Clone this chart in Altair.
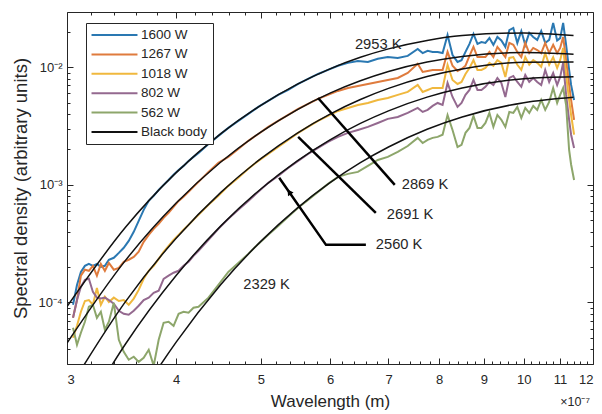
import altair as alt
import pandas as pd

FONT = "Liberation Sans"
INK = "#262626"

# ---------------- data (wavelength in units of 1e-7 m) ----------------
wavelength = [3.048, 3.080, 3.112, 3.145, 3.178, 3.212, 3.246, 3.280, 3.315, 3.350,
              3.394, 3.439, 3.484, 3.530, 3.577, 3.624, 3.672, 3.721, 3.770, 3.820,
              3.870, 3.921, 3.973, 4.026, 4.079, 4.133, 4.187, 4.243,
              4.356, 4.471, 4.590, 4.712, 4.838, 4.967, 5.099, 5.234, 5.374, 5.517,
              5.663, 5.814, 5.969, 6.128, 6.291, 6.458, 6.630, 6.806, 6.987, 7.173,
              7.364, 7.560,
              7.660, 7.761, 7.864, 7.968, 8.073, 8.179, 8.287, 8.397,
              8.486, 8.575, 8.666, 8.757, 8.850, 8.943, 9.038, 9.133, 9.229, 9.327,
              9.425, 9.525, 9.625, 9.727, 9.830, 9.934, 10.038, 10.144, 10.251, 10.360,
              10.469, 10.580, 10.691, 10.804, 10.918,
              11.005, 11.092, 11.179, 11.268, 11.327, 11.416]

p1600 = [9.56e-5, 1.41e-4, 1.82e-4, 2.05e-4, 2.13e-4, 2.05e-4, 2.13e-4, 2.01e-4, 2.05e-4, 2.31e-4,
         2.40e-4, 2.64e-4, 2.92e-4, 3.34e-4, 3.99e-4, 4.94e-4, 6.13e-4, 7.31e-4, 8.06e-4, 9.07e-4,
         1.00e-3, 1.10e-3, 1.22e-3, 1.34e-3, 1.45e-3, 1.60e-3, 1.73e-3, 1.87e-3,
         2.23e-3, 2.61e-3, 3.05e-3, 3.50e-3, 4.01e-3, 4.60e-3, 5.17e-3, 5.82e-3, 6.41e-3, 7.21e-3,
         7.95e-3, 8.77e-3, 9.49e-3, 1.03e-2, 1.09e-2, 1.13e-2, 1.11e-2, 1.18e-2, 1.22e-2, 1.20e-2,
         1.25e-2, 1.43e-2,
         1.32e-2, 1.38e-2, 1.35e-2, 1.35e-2, 1.32e-2, 1.88e-2, 1.27e-2, 1.11e-2,
         1.15e-2, 1.35e-2, 1.58e-2, 1.92e-2, 1.58e-2, 1.64e-2, 1.61e-2, 1.77e-2, 1.55e-2, 1.81e-2,
         1.69e-2, 1.49e-2, 2.07e-2, 2.16e-2, 1.61e-2, 2.03e-2, 1.55e-2, 1.96e-2, 1.81e-2, 1.71e-2,
         2.03e-2, 1.61e-2, 1.71e-2, 2.38e-2, 1.69e-2,
         1.77e-2, 2.38e-2, 1.55e-2, 9.49e-3, 7.07e-3, 5.27e-3]

p1267 = [7.41e-5, 1.05e-4, 1.69e-4, 1.90e-4, 1.86e-4, 2.05e-4, 1.69e-4, 2.13e-4, 1.86e-4, 2.17e-4,
         1.90e-4, 1.97e-4, 2.22e-4, 2.31e-4, 2.44e-4, 2.70e-4, 3.28e-4, 3.76e-4, 4.23e-4, 4.66e-4,
         5.24e-4, 5.78e-4, 6.50e-4, 7.31e-4, 7.91e-4, 8.72e-4, 9.62e-4, 1.06e-3,
         1.29e-3, 1.54e-3, 1.73e-3, 2.02e-3, 2.37e-3, 2.71e-3, 3.11e-3, 3.50e-3, 3.93e-3, 4.42e-3,
         4.88e-3, 5.38e-3, 5.82e-3, 6.29e-3, 6.67e-3, 6.94e-3, 7.21e-3, 7.50e-3, 7.80e-3, 8.11e-3,
         8.94e-3, 1.07e-2,
         9.12e-3, 9.30e-3, 9.49e-3, 9.49e-3, 9.49e-3, 1.35e-2, 1.03e-2, 9.30e-3,
         9.67e-3, 1.03e-2, 1.25e-2, 1.49e-2, 1.22e-2, 1.22e-2, 1.22e-2, 1.35e-2, 1.22e-2, 1.49e-2,
         1.35e-2, 1.22e-2, 1.61e-2, 1.55e-2, 1.35e-2, 1.22e-2, 1.61e-2, 1.32e-2, 1.46e-2, 1.40e-2,
         1.32e-2, 1.61e-2, 1.32e-2, 1.55e-2, 1.32e-2,
         1.46e-2, 1.81e-2, 1.15e-2, 7.07e-3, 5.27e-3, 3.57e-3]

p1018 = [5.01e-5, 6.34e-5, 8.34e-5, 1.03e-4, 1.05e-4, 9.56e-5, 1.33e-4, 9.56e-5, 1.12e-4, 1.01e-4,
         1.10e-4, 1.03e-4, 1.05e-4, 9.56e-5, 1.08e-4, 1.28e-4, 1.59e-4, 1.86e-4, 2.05e-4, 2.35e-4,
         2.70e-4, 3.03e-4, 3.41e-4, 3.76e-4, 4.15e-4, 4.57e-4, 5.04e-4, 5.56e-4,
         6.76e-4, 8.06e-4, 9.81e-4, 1.15e-3, 1.37e-3, 1.60e-3, 1.83e-3, 2.10e-3, 2.41e-3, 2.77e-3,
         3.11e-3, 3.50e-3, 3.86e-3, 4.25e-3, 4.51e-3, 4.78e-3, 4.97e-3, 5.27e-3, 5.48e-3, 5.82e-3,
         6.17e-3, 7.07e-3,
         6.17e-3, 6.41e-3, 6.67e-3, 6.67e-3, 6.67e-3, 1.05e-2, 7.80e-3, 7.21e-3,
         7.50e-3, 8.77e-3, 9.86e-3, 1.15e-2, 9.49e-3, 9.49e-3, 9.86e-3, 1.09e-2, 1.03e-2, 1.15e-2,
         1.09e-2, 8.27e-3, 1.20e-2, 1.22e-2, 1.05e-2, 9.49e-3, 1.22e-2, 1.05e-2, 1.15e-2, 1.09e-2,
         1.01e-2, 1.32e-2, 1.05e-2, 1.22e-2, 9.86e-3,
         1.15e-2, 1.46e-2, 8.60e-3, 5.27e-3, 3.93e-3, 2.67e-3]

p802 = [7.41e-5, 1.05e-4, 1.36e-4, 1.56e-4, 1.59e-4, 1.23e-4, 1.10e-4, 1.08e-4, 1.10e-4, 1.05e-4,
        9.75e-5, 8.50e-5, 8.02e-5, 7.86e-5, 8.50e-5, 9.38e-5, 1.05e-4, 1.10e-4, 1.21e-4, 1.26e-4,
        1.59e-4, 1.69e-4, 1.79e-4, 1.86e-4, 2.05e-4, 2.22e-4, 2.49e-4, 2.75e-4,
        3.41e-4, 4.23e-4, 5.14e-4, 6.13e-4, 7.31e-4, 8.72e-4, 1.04e-3, 1.19e-3, 1.39e-3, 1.60e-3,
        1.83e-3, 2.06e-3, 2.32e-3, 2.56e-3, 2.77e-3, 2.93e-3, 3.11e-3, 3.36e-3, 3.64e-3, 3.78e-3,
        4.09e-3, 4.51e-3,
        4.17e-3, 4.34e-3, 4.69e-3, 4.97e-3, 4.78e-3, 7.36e-3, 5.59e-3, 4.60e-3,
        4.97e-3, 5.82e-3, 6.41e-3, 7.80e-3, 6.41e-3, 6.41e-3, 6.82e-3, 7.50e-3, 7.07e-3, 8.11e-3,
        7.36e-3, 5.59e-3, 8.11e-3, 8.44e-3, 7.50e-3, 6.82e-3, 8.60e-3, 7.50e-3, 8.11e-3, 7.50e-3,
        7.07e-3, 9.49e-3, 7.50e-3, 8.94e-3, 7.07e-3,
        8.27e-3, 1.09e-2, 5.82e-3, 3.57e-3, 2.67e-3, 2.06e-3]

p562 = [6.10e-5, 4.37e-5, 5.53e-5, 6.86e-5, 9.19e-5, 9.56e-5, 7.41e-5, 8.34e-5, 5.86e-5, 6.86e-5,
        9.94e-5, 4.82e-5, 3.81e-5, 3.26e-5, 3.46e-5, 3.13e-5, 3.39e-5, 3.96e-5, 2.90e-5, 4.82e-5,
        6.72e-5, 6.86e-5, 6.34e-5, 8.02e-5, 8.34e-5, 8.18e-5, 9.02e-5, 9.19e-5,
        1.10e-4, 1.41e-4, 1.82e-4, 2.17e-4, 2.59e-4, 3.15e-4, 3.76e-4, 4.48e-4, 5.35e-4, 6.38e-4,
        7.46e-4, 8.72e-4, 1.02e-3, 1.17e-3, 1.24e-3, 1.29e-3, 1.45e-3, 1.63e-3, 1.73e-3, 1.91e-3,
        2.14e-3, 2.51e-3,
        2.27e-3, 2.41e-3, 2.51e-3, 2.56e-3, 2.67e-3, 3.93e-3, 2.93e-3, 2.10e-3,
        2.19e-3, 2.77e-3, 3.05e-3, 3.86e-3, 3.05e-3, 3.05e-3, 3.36e-3, 4.09e-3, 3.11e-3, 3.93e-3,
        3.57e-3, 3.11e-3, 4.17e-3, 4.09e-3, 4.60e-3, 3.71e-3, 4.51e-3, 4.09e-3, 4.69e-3, 4.34e-3,
        5.27e-3, 4.34e-3, 5.07e-3, 6.67e-3, 4.97e-3,
        5.82e-3, 6.67e-3, 4.78e-3, 1.98e-3, 1.49e-3, 1.10e-3]

series_names = ["1600 W", "1267 W", "1018 W", "802 W", "562 W"]
series_values = [p1600, p1267, p1018, p802, p562]

# black-body curves
bb_wavelength = [3.0, 3.5, 4.0, 4.5, 5.0, 5.5, 6.0, 6.5, 7.0, 7.75, 8.5, 10.0, 11.4]
bb_2953 = [9.23e-5, 4.36e-4, 1.271e-3, 2.729e-3, 4.75e-3, 7.16e-3, 9.70e-3, 1.215e-2, 1.433e-2, 1.691e-2, 1.858e-2, 1.956e-2, 1.86e-2]
bb_2869 = [4.52e-5, 2.28e-4, 7.00e-4, 1.564e-3, 2.813e-3, 4.349e-3, 6.02e-3, 7.67e-3, 9.20e-3, 1.107e-2, 1.236e-2, 1.334e-2, 1.29e-2]
bb_2691 = [1.72e-5, 1.018e-4, 3.52e-4, 8.64e-4, 1.673e-3, 2.747e-3, 4.00e-3, 5.32e-3, 6.61e-3, 8.33e-3, 9.65e-3, 1.103e-2, 1.11e-2]
bb_2560 = [6.61e-6, 4.44e-5, 1.696e-4, 4.48e-4, 9.23e-4, 1.593e-3, 2.414e-3, 3.33e-3, 4.26e-3, 5.57e-3, 6.66e-3, 7.99e-3, 8.30e-3]
bb_2329 = [1.13e-6, 9.88e-6, 4.60e-5, 1.421e-4, 3.31e-4, 6.32e-4, 1.044e-3, 1.545e-3, 2.10e-3, 2.97e-3, 3.78e-3, 5.00e-3, 5.56e-3]
bb_temps = ["2953 K", "2869 K", "2691 K", "2560 K", "2329 K"]
bb_values = [bb_2953, bb_2869, bb_2691, bb_2560, bb_2329]

# annotations
ann_text = ["2953 K", "2869 K", "2691 K", "2560 K", "2329 K"]
ann_wl = [6.407, 7.249, 6.969, 6.770, 4.775]
ann_val = [1.55e-2, 1.00e-3, 5.56e-4, 3.09e-4, 1.41e-4]

leader_group = ["2869", "2869", "2691", "2691", "2560", "2560", "2560"]
leader_order = [0, 1, 0, 1, 0, 1, 2]
leader_wl = [5.814, 7.117, 5.517, 6.770, 5.248, 5.937, 6.595]
leader_val = [5.48e-3, 1.00e-3, 2.56e-3, 5.78e-4, 1.15e-3, 3.09e-4, 3.09e-4]

arrow_wl = [5.388]
arrow_val = [8.72e-4]

legend_labels = series_names + ["Black body"]
legend_colors = ["#2a78b2", "#df7b3d", "#f0b83e", "#94698f", "#8da66b", "#111111"]

major_x = [3, 4, 5, 6, 7, 8, 9, 10, 11, 12]
minor_x = [round(3 + 0.2 * i, 1) for i in range(1, 45) if (i % 5) != 0]
major_y = [1e-4, 1e-3, 1e-2]
minor_y = [m * 10.0 ** e for e in (-5, -4, -3, -2) for m in range(2, 10)]
minor_y = [v for v in minor_y if 3e-5 <= v <= 0.0295]

# ---------------- tables ----------------
spec_rows = []
for name, vals in zip(series_names, series_values):
    for w, v in zip(wavelength, vals):
        spec_rows.append({"wl": w, "v": v, "series": name})
spec_df = pd.DataFrame(spec_rows)

bb_rows = []
for t, vals in zip(bb_temps, bb_values):
    for w, v in zip(bb_wavelength, vals):
        bb_rows.append({"wl": w, "v": v, "T": t, "series": "Black body"})
bb_df = pd.DataFrame(bb_rows)

ann_df = pd.DataFrame({"wl": ann_wl, "v": ann_val, "txt": ann_text})
lead_df = pd.DataFrame({"wl": leader_wl, "v": leader_val, "g": leader_group, "o": leader_order})
arrow_df = pd.DataFrame({"wl": arrow_wl, "v": arrow_val})
mult_df = pd.DataFrame({"t": ["\u00d710\u207b\u2077"]})

# ---------------- scales / axes ----------------
W, H = 526, 352
xs = alt.Scale(type="log", domain=[3, 12], nice=False)
ys = alt.Scale(type="log", domain=[3.0e-5, 0.0295], nice=False)
cs = alt.Scale(domain=legend_labels, range=legend_colors)

legend = alt.Legend(title=None, orient="none", legendX=19, legendY=11,
                    strokeColor=INK, fillColor="white", padding=5,
                    symbolType="M-4,0L4,0", symbolSize=132, symbolStrokeWidth=2,
                    symbolOffset=16.5, labelOffset=19.5,
                    labelFontSize=13.5, labelFont=FONT, labelColor=INK,
                    rowPadding=5.4, labelLimit=200)

main_x = alt.Axis(orient="bottom", values=major_x, format="~g", ticks=False, domain=False,
                  grid=False, labelFontSize=13, labelFont=FONT, labelColor=INK, labelPadding=9,
                  labelFlush=True, labelOverlap=False,
                  title="Wavelength (m)", titleFont=FONT, titleFontSize=17,
                  titleFontWeight="normal", titleColor=INK, titlePadding=7)
main_y = alt.Axis(orient="left", values=major_y,
                  labelExpr="datum.value > 0.005 ? '10\u207b\u00b2' : (datum.value > 0.0005 ? '10\u207b\u00b3' : '10\u207b\u2074')",
                  ticks=False, domain=False, grid=False, labelFontSize=13, labelFont=FONT,
                  labelColor=INK, labelPadding=5,
                  title="Spectral density (arbitrary units)", titleFont=FONT, titleFontSize=18.5,
                  titleFontWeight="normal", titleColor=INK, titlePadding=7)


def tick_axis(orient, offset, values, size):
    return alt.Axis(orient=orient, offset=offset, values=values, tickSize=size, labels=False,
                    domain=False, grid=False, title=None, tickColor=INK, tickWidth=1)


spectra = alt.Chart(spec_df).mark_line(strokeWidth=2, clip=True).encode(
    x=alt.X("wl:Q", scale=xs, axis=main_x),
    y=alt.Y("v:Q", scale=ys, axis=main_y),
    color=alt.Color("series:N", scale=cs, legend=legend),
    order=alt.Order("wl:Q"),
)

bb = alt.Chart(bb_df).mark_line(strokeWidth=1.5, clip=True, interpolate="monotone").encode(
    x=alt.X("wl:Q", scale=xs, axis=tick_axis("top", -H, minor_x, 3)),
    y=alt.Y("v:Q", scale=ys, axis=tick_axis("right", -W, minor_y, 3)),
    color=alt.Color("series:N", scale=cs, legend=legend),
    detail="T:N",
    order=alt.Order("wl:Q"),
)

leaders = alt.Chart(lead_df).mark_line(color="black", strokeWidth=2.5).encode(
    x=alt.X("wl:Q", scale=xs, axis=tick_axis("bottom", -H, minor_x, 3)),
    y=alt.Y("v:Q", scale=ys, axis=tick_axis("left", -W, minor_y, 3)),
    detail="g:N",
    order=alt.Order("o:Q"),
)

texts = alt.Chart(ann_df).mark_text(align="left", baseline="middle", font=FONT,
                                    fontSize=14.7, color=INK).encode(
    x=alt.X("wl:Q", scale=xs, axis=tick_axis("top", -H, major_x, 6)),
    y=alt.Y("v:Q", scale=ys, axis=tick_axis("right", -W, major_y, 6)),
    text="txt:N",
)

arrow = alt.Chart(arrow_df).mark_point(shape="triangle-up", filled=True, size=45,
                                       angle=326, color="black", opacity=1).encode(
    x=alt.X("wl:Q", scale=xs, axis=tick_axis("bottom", -H, major_x, 6)),
    y=alt.Y("v:Q", scale=ys, axis=tick_axis("left", -W, major_y, 6)),
)

mult = alt.Chart(mult_df).mark_text(align="right", baseline="middle", font=FONT,
                                    fontSize=12.5, color=INK).encode(
    x=alt.value(523), y=alt.value(390), text="t:N"
)

chart = alt.layer(spectra, bb, leaders, texts, arrow, mult).resolve_axis(
    x="independent", y="independent"
).properties(
    width=W, height=H,
    autosize=alt.AutoSizeParams(type="none"),
    padding={"left": 59, "top": 4, "right": 1, "bottom": 48},
).configure_view(stroke=INK, strokeWidth=1)

chart.save("out.html", embed_options={"renderer": "svg", "actions": False})
